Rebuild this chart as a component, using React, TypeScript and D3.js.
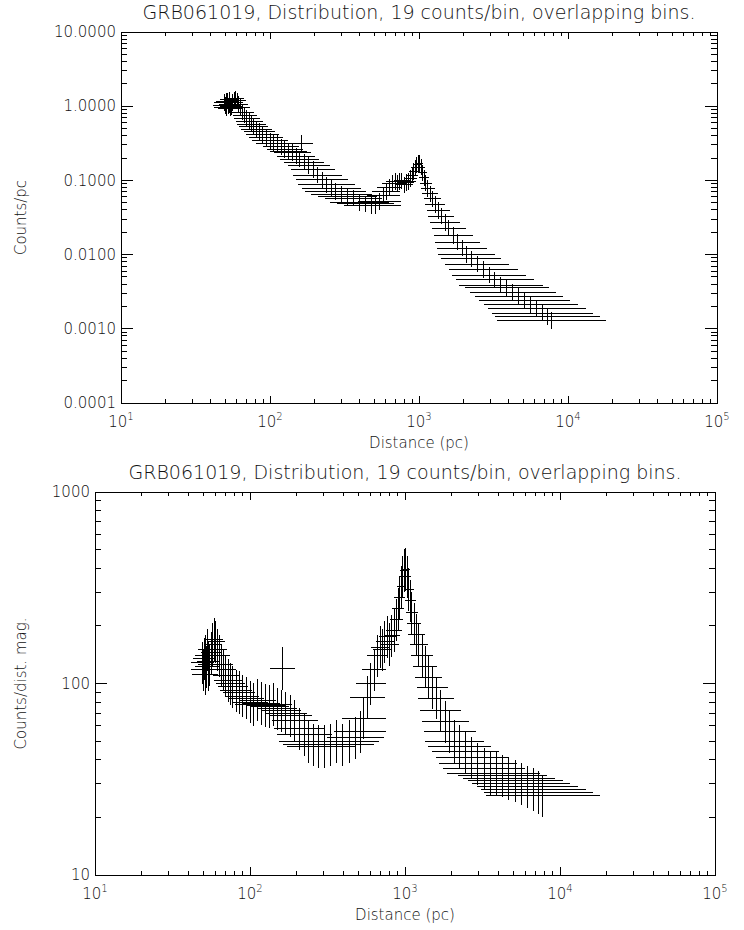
import React from "react";
import * as d3 from "d3";

// ---- Data: overlapping bins of 19 counts each ----
const distancePc = [
  49.55, 50.12, 50.7, 51.29, 51.88, 52.48, 53.09, 53.7, 54.33, 54.95,
  56.23, 57.54, 58.88, 60.26, 61.66, 63.1, 65.31, 67.61, 69.98, 72.44,
  74.99, 77.62, 81.28, 85.11, 89.13, 94.41, 100.0, 105.9, 112.2, 118.9,
  125.9, 133.4, 141.3, 149.6, 158.5, 162.2, 169.8, 182.0, 195.0, 208.9,
  223.9, 239.9, 257.0, 275.4, 302.0, 331.1, 363.1, 398.1, 436.5, 478.6,
  512.9, 543.3, 575.4, 602.6, 631.0, 660.7, 691.8, 716.1, 741.3, 767.4,
  794.3, 822.2, 851.1, 881.0, 901.6, 922.6, 944.1, 966.1, 988.6, 1012,
  1035, 1059, 1084, 1109, 1148, 1189, 1230, 1288, 1349, 1413,
  1496, 1585, 1698, 1820, 1950, 2089, 2239, 2455, 2692, 2951,
  3236, 3548, 3890, 4266, 4677, 5129, 5623, 6166, 6761, 7244, 7762,
];

const binLowPc = [
  41.8, 41.6, 43.1, 42.2, 44.4, 43.9, 45.9, 45.4, 45.1, 46.1,
  48.4, 50.2, 51.8, 52.8, 53.3, 54.0, 54.8, 56.2, 57.4, 58.7,
  60.3, 61.8, 64.1, 66.7, 69.1, 72.8, 76.1, 80.0, 85.9, 90.1,
  94.8, 100.0, 106.7, 111.3, 117.0, 135.2, 124.2, 131.9, 138.5, 143.2,
  149.3, 154.9, 162.9, 172.9, 189.6, 209.9, 234.4, 252.4, 281.8, 314.2,
  347.0, 390.0, 444.8, 484.2, 524.3, 565.0, 600.7, 618.9, 649.2, 677.2,
  692.7, 727.1, 758.6, 795.8, 824.6, 853.3, 881.7, 909.1, 934.6, 957.4,
  973.9, 987.0, 999.6, 1010, 1032, 1053, 1073, 1101, 1128, 1154,
  1188, 1222, 1253, 1286, 1319, 1349, 1406, 1493, 1579, 1659,
  1762, 1865, 2044, 2198, 2361, 2532, 2712, 2900, 3095, 3222, 3346,
];

const binHighPc = [
  58.8, 60.3, 59.6, 62.3, 60.7, 62.8, 61.4, 63.5, 65.4, 65.5,
  65.4, 66.0, 67.0, 68.8, 71.3, 73.8, 77.8, 81.4, 85.4, 89.4,
  93.3, 97.5, 103.1, 108.5, 115.0, 122.5, 131.5, 140.2, 146.5, 156.9,
  167.3, 177.9, 187.0, 201.1, 214.8, 194.6, 232.1, 251.1, 274.5, 304.6,
  335.8, 371.6, 405.3, 438.6, 480.9, 522.2, 562.4, 627.9, 676.1, 729.1,
  758.1, 756.8, 744.4, 749.9, 759.5, 772.6, 796.7, 828.5, 846.4, 869.6,
  910.7, 929.7, 954.9, 975.4, 985.8, 997.5, 1011, 1027, 1046, 1070,
  1100, 1136, 1176, 1217, 1277, 1343, 1410, 1506, 1614, 1730,
  1883, 2057, 2301, 2576, 2882, 3235, 3566, 4036, 4590, 5248,
  5942, 6752, 7402, 8278, 9266, 10389, 11660, 13110, 14768, 16288, 18004,
];

const countsPerPc = [
  1.122, 1.023, 1.156, 0.948, 1.172, 1.01, 1.227, 1.051, 0.943, 0.988,
  1.12, 1.208, 1.254, 1.189, 1.057, 0.964, 0.831, 0.758, 0.683, 0.624,
  0.574, 0.532, 0.487, 0.455, 0.414, 0.382, 0.343, 0.316, 0.314, 0.285,
  0.262, 0.244, 0.237, 0.212, 0.194, 0.319, 0.176, 0.159, 0.14, 0.118,
  0.102, 0.0877, 0.0783, 0.0714, 0.0651, 0.0608, 0.0579, 0.0505, 0.0482, 0.0458,
  0.0462, 0.0518, 0.0635, 0.0715, 0.0812, 0.092, 0.0973, 0.091, 0.0967, 0.099,
  0.0875, 0.094, 0.097, 0.106, 0.118, 0.132, 0.147, 0.162, 0.171, 0.169,
  0.151, 0.127, 0.108, 0.092, 0.0776, 0.0657, 0.0565, 0.0472, 0.0393, 0.033,
  0.0273, 0.0228, 0.0181, 0.0147, 0.0122, 0.0101, 0.00879, 0.00746, 0.00631, 0.00529,
  0.00455, 0.00389, 0.00355, 0.00312, 0.00275, 0.00242, 0.00212, 0.00186, 0.00163, 0.00145, 0.0013,
];

const countsPerDistMag = [
  128, 118, 135, 112, 140, 122, 150, 130, 118, 125,
  145, 160, 170, 165, 150, 140, 125, 118, 110, 104,
  100, 96, 92, 90, 86, 84, 80, 78, 82, 79,
  77, 76, 78, 74, 72, 120, 70, 68, 64, 58,
  54, 50, 48, 47, 47, 48, 50, 48, 50, 52,
  56, 66, 85, 100, 118, 140, 155, 150, 165, 175,
  160, 178, 190, 215, 245, 280, 320, 360, 390, 395,
  360, 310, 270, 235, 205, 180, 160, 140, 122, 108,
  95, 84, 72, 63, 56, 50, 47, 44, 41, 38,
  36, 34, 34, 33, 32, 31, 30, 29, 28, 27, 26,
];

// Poisson (Gehrels) error factors for 19 counts per bin
const errorLowFactor = 0.773;
const errorHighFactor = 1.286;

const xTickDecades = [10, 100, 1000, 10000, 100000];
const xTickExponents = ["1", "2", "3", "4", "5"];
const topYTickValues = [0.0001, 0.001, 0.01, 0.1, 1, 10];
const topYTickLabels = ["0.0001", "0.0010", "0.0100", "0.1000", "1.0000", "10.0000"];
const bottomYTickValues = [10, 100, 1000];
const bottomYTickLabels = ["10", "100", "1000"];

const titleText = "GRB061019, Distribution, 19 counts/bin, overlapping bins.";
const xAxisTitle = "Distance (pc)";
const topYAxisTitle = "Counts/pc";
const bottomYAxisTitle = "Counts/dist. mag.";

const FONT = "'DejaVu Sans', sans-serif";
const FONT_WEIGHT = 300;
const LABEL_SIZE = 15;
const TITLE_SIZE = 19;
const INK = "#000";
const TEXT_INK = "#111";

type PanelProps = {
  left: number;
  right: number;
  top: number;
  bottom: number;
  yDomain: [number, number];
  yValues: number[];
  yTickValues: number[];
  yTickLabels: string[];
  yTitle: string;
};

function Panel(p: PanelProps) {
  const x = d3.scaleLog().domain([10, 100000]).range([p.left, p.right]);
  const y = d3.scaleLog().domain(p.yDomain).range([p.bottom, p.top]);

  const isDecade = (v: number) => Math.abs(Math.log10(v) - Math.round(Math.log10(v))) < 1e-9;
  const xTicks = x.ticks();
  const yTicks = y.ticks();

  const xMajor = 0.02 * (p.bottom - p.top);
  const yMajor = 0.02 * (p.right - p.left);
  const cx = (p.left + p.right) / 2;
  const cy = (p.top + p.bottom) / 2;

  const textProps = {
    fontFamily: FONT,
    fontWeight: FONT_WEIGHT,
    fill: TEXT_INK,
  };

  return (
    <g>
      <text x={cx} y={p.top - 13} textAnchor="middle" fontSize={TITLE_SIZE} {...textProps}>
        {titleText}
      </text>

      {/* data: error-bar crosses */}
      <g stroke={INK} strokeWidth={1} shapeRendering="crispEdges">
        {distancePc.map((d, i) => (
          <g key={i}>
            <line x1={x(binLowPc[i])} x2={x(binHighPc[i])} y1={y(p.yValues[i])} y2={y(p.yValues[i])} />
            <line
              x1={x(d)}
              x2={x(d)}
              y1={y(p.yValues[i] * errorLowFactor)}
              y2={y(p.yValues[i] * errorHighFactor)}
            />
          </g>
        ))}
      </g>

      {/* frame */}
      <rect
        x={p.left}
        y={p.top}
        width={p.right - p.left}
        height={p.bottom - p.top}
        fill="none"
        stroke={INK}
        strokeWidth={1}
        shapeRendering="crispEdges"
      />

      {/* ticks on all four sides */}
      <g stroke={INK} strokeWidth={1} shapeRendering="crispEdges">
        {xTicks.map((t, i) => {
          const len = isDecade(t) ? xMajor : xMajor / 2;
          const xx = x(t);
          return (
            <g key={i}>
              <line x1={xx} x2={xx} y1={p.bottom} y2={p.bottom - len} />
              <line x1={xx} x2={xx} y1={p.top} y2={p.top + len} />
            </g>
          );
        })}
        {yTicks.map((t, i) => {
          const len = isDecade(t) ? yMajor : yMajor / 2;
          const yy = y(t);
          return (
            <g key={"y" + i}>
              <line x1={p.left} x2={p.left + len} y1={yy} y2={yy} />
              <line x1={p.right} x2={p.right - len} y1={yy} y2={yy} />
            </g>
          );
        })}
      </g>

      {/* x tick labels */}
      {xTickDecades.map((v, i) => (
        <text key={i} x={x(v)} y={p.bottom + 24} textAnchor="middle" fontSize={LABEL_SIZE} {...textProps}>
          10
          <tspan fontSize={10} dy={-7}>
            {xTickExponents[i]}
          </tspan>
        </text>
      ))}

      {/* y tick labels */}
      {p.yTickValues.map((v, i) => (
        <text
          key={i}
          x={p.left - 5}
          y={y(v)}
          dy="0.35em"
          textAnchor="end"
          fontSize={LABEL_SIZE}
          {...textProps}
        >
          {p.yTickLabels[i]}
        </text>
      ))}

      <text x={cx} y={p.bottom + 45} textAnchor="middle" fontSize={LABEL_SIZE} {...textProps}>
        {xAxisTitle}
      </text>

      <text
        transform={`translate(26,${cy}) rotate(-90)`}
        textAnchor="middle"
        fontSize={LABEL_SIZE}
        {...textProps}
      >
        {p.yTitle}
      </text>
    </g>
  );
}

export default function App() {
  return (
    <svg
      width={744}
      height={930}
      viewBox="0 0 744 930"
      style={{ position: "absolute", left: 0, top: 0, background: "#fff" }}
    >
      <rect x={0} y={0} width={744} height={930} fill="#fff" />
      <Panel
        left={121}
        right={717}
        top={32}
        bottom={403}
        yDomain={[0.0001, 10]}
        yValues={countsPerPc}
        yTickValues={topYTickValues}
        yTickLabels={topYTickLabels}
        yTitle={topYAxisTitle}
      />
      <Panel
        left={95}
        right={715}
        top={492}
        bottom={875}
        yDomain={[10, 1000]}
        yValues={countsPerDistMag}
        yTickValues={bottomYTickValues}
        yTickLabels={bottomYTickLabels}
        yTitle={bottomYAxisTitle}
      />
    </svg>
  );
}
